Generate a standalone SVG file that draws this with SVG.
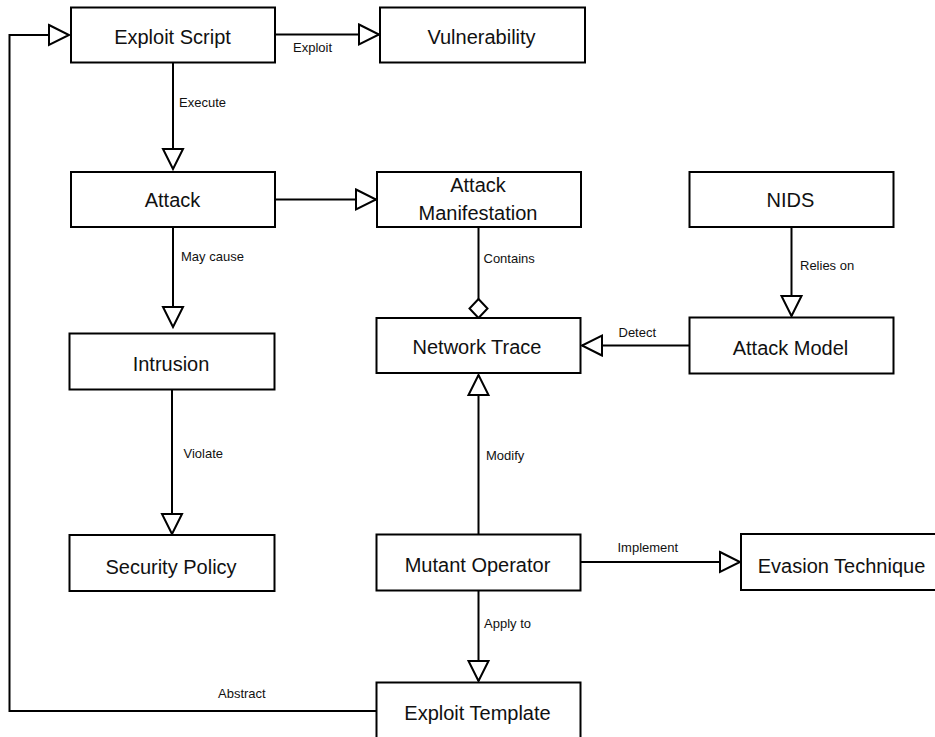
<svg xmlns="http://www.w3.org/2000/svg" width="935" height="737" viewBox="0 0 935 737">
  <style>
    .box { fill: #ffffff; stroke: #000000; stroke-width: 2; }
    .name { font-family: "Liberation Sans", Arial, sans-serif; font-size: 20px; fill: #111111; text-anchor: middle; }
    .edge { fill: none; stroke: #000000; stroke-width: 2; }
    .tag { font-family: "Liberation Sans", Arial, sans-serif; font-size: 13px; fill: #111111; }
    .gen { marker-end: url(#hollow); }
    .agg { marker-end: url(#diamond); }
  </style>
  <defs>
    <!-- hollow triangle head (generalisation style) -->
    <marker id="hollow" viewBox="-2 -2 24 24" refX="20" refY="10" markerWidth="24" markerHeight="24" markerUnits="userSpaceOnUse" orient="auto" overflow="visible">
      <path d="M0,0 L20,10 L0,20 Z" fill="#ffffff" stroke="#000000" stroke-width="2" stroke-linejoin="miter"/>
    </marker>
    <!-- hollow diamond head (aggregation style) -->
    <marker id="diamond" viewBox="-2 -2 23 22" refX="19" refY="9" markerWidth="23" markerHeight="22" markerUnits="userSpaceOnUse" orient="auto" overflow="visible">
      <path d="M0,9 L9.5,0 L19,9 L9.5,18 Z" fill="#ffffff" stroke="#000000" stroke-width="2"/>
    </marker>
  </defs>

  <rect width="935" height="737" fill="#ffffff"/>

  <g id="connectors">
    <path class="edge gen" d="M173,62 V169"/>
    <path class="edge gen" d="M275,34.5 H379"/>
    <path class="edge gen" d="M376,711 H9.5 V35 H69"/>
    <path class="edge gen" d="M275,199.5 H376"/>
    <path class="edge gen" d="M173,227 V327"/>
    <path class="edge gen" d="M172,389 V534"/>
    <path class="edge agg" d="M478.5,227 V318"/>
    <path class="edge gen" d="M689,345.5 H582"/>
    <path class="edge gen" d="M791.5,227 V316"/>
    <path class="edge gen" d="M478.5,534 V375"/>
    <path class="edge gen" d="M581,562 H740"/>
    <path class="edge gen" d="M478.5,590 V681"/>

    <text class="tag" x="293" y="51.5">Exploit</text>
    <text class="tag" x="179" y="107">Execute</text>
    <text class="tag" x="181" y="261">May cause</text>
    <text class="tag" x="483.5" y="263">Contains</text>
    <text class="tag" x="800" y="270">Relies on</text>
    <text class="tag" x="618.5" y="336.5">Detect</text>
    <text class="tag" x="183.5" y="458">Violate</text>
    <text class="tag" x="486" y="460">Modify</text>
    <text class="tag" x="617.5" y="551.5">Implement</text>
    <text class="tag" x="484" y="628">Apply to</text>
    <text class="tag" x="218" y="698">Abstract</text>
  </g>

  <g id="exploit-script">
    <rect class="box" x="71" y="7.5" width="204" height="55"/>
    <text class="name" x="172.5" y="44">Exploit Script</text>
  </g>
  <g id="vulnerability">
    <rect class="box" x="380" y="7.5" width="205" height="55"/>
    <text class="name" x="481.5" y="44">Vulnerability</text>
  </g>
  <g id="attack">
    <rect class="box" x="71" y="172" width="204" height="55"/>
    <text class="name" x="172.5" y="206.5">Attack</text>
  </g>
  <g id="attack-manifestation">
    <rect class="box" x="377" y="172" width="204" height="55"/>
    <text class="name" x="478" y="192">Attack</text>
    <text class="name" x="478" y="220">Manifestation</text>
  </g>
  <g id="nids">
    <rect class="box" x="689.5" y="172" width="204" height="55"/>
    <text class="name" x="790.5" y="206.5">NIDS</text>
  </g>
  <g id="intrusion">
    <rect class="box" x="69.5" y="333.5" width="205" height="56"/>
    <text class="name" x="171" y="371">Intrusion</text>
  </g>
  <g id="network-trace">
    <rect class="box" x="376.5" y="318" width="204" height="55"/>
    <text class="name" x="477" y="353.5">Network Trace</text>
  </g>
  <g id="attack-model">
    <rect class="box" x="689.5" y="317.5" width="204" height="56"/>
    <text class="name" x="790.5" y="354.5">Attack Model</text>
  </g>
  <g id="security-policy">
    <rect class="box" x="69.5" y="535" width="205" height="56"/>
    <text class="name" x="171" y="573.5">Security Policy</text>
  </g>
  <g id="mutant-operator">
    <rect class="box" x="376.5" y="534.5" width="204" height="56"/>
    <text class="name" x="477.5" y="572">Mutant Operator</text>
  </g>
  <g id="evasion-technique">
    <rect class="box" x="741" y="534" width="196" height="56"/>
    <text class="name" x="841.5" y="573">Evasion Technique</text>
  </g>
  <g id="exploit-template">
    <rect class="box" x="376.5" y="682.5" width="204" height="60"/>
    <text class="name" x="477.5" y="720">Exploit Template</text>
  </g>
</svg>
